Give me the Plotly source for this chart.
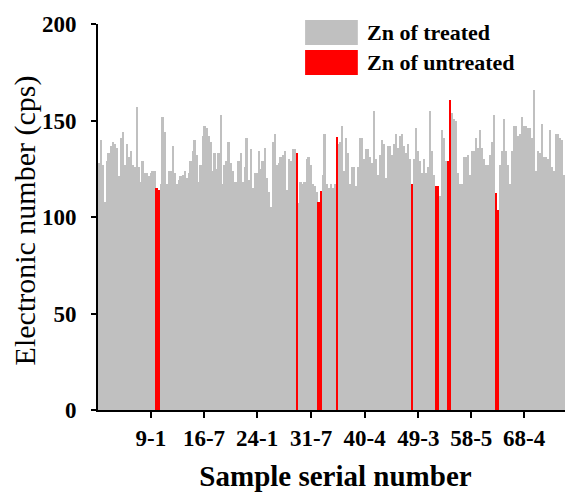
import plotly.graph_objects as go

# ---- data ----
treated = [
    128, 140, 127, 108, 129, 133, 137, 139, 138, 136,
    121, 141, 144, 127, 138, 131, 134, 127, 126, 157,
    126, 118, 129, 123, 123, 121, 123, 124, 124, None,
    None, 117, 152, 144, 117, 124, 124, 137, 123, 117,
    119, 121, 122, 124, 120, 123, 129, 134, 140, 132,
    118, 127, 142, 147, 146, 142, 139, 124, 133, 125,
    133, 153, 117, 127, 129, 139, 128, 124, 118, 118,
    129, 133, 118, 126, 141, 119, 135, 115, 123, 123,
    134, 125, 129, 136, 120, 113, 105, 139, 143, 127,
    128, 131, 132, 134, 114, 130, 129, 135, 135, None,
    107, 118, 117, 118, 130, 131, 127, 117, 116, 113,
    None, None, 122, 143, 117, 115, 117, 115, 117, None,
    138, 139, 147, 124, 141, 133, 117, 126, 126, 116,
    126, 141, 141, 130, 135, 135, 131, 128, 155, 130,
    122, 132, 140, 138, 120, 137, 137, 132, 138, 143,
    136, 142, 143, 137, 133, 138, 130, None, 130, 146,
    134, 129, 123, 130, 123, 126, 155, 134, 122, None,
    None, 111, 145, 141, 129, None, None, 154, 151, 150,
    123, 117, 117, 131, 131, 132, 122, 134, 134, 141,
    136, 145, 136, 130, 127, 127, 132, 139, 153, None,
    None, 127, 134, 151, 134, 127, 117, 134, 147, 147,
    142, 143, 152, 147, 147, 146, 146, 141, 166, 124,
    134, 133, 148, 131, 131, 130, 145, 126, 124, 143,
    143, 141, 140, 122, 120, 131, 131, None,
]
untreated_index = [29, 30, 99, 110, 111, 119, 157, 169, 170, 175, 176, 199, 200, 237]
untreated = [115, 114, 133, 108, 113.5, 141.5, 117, 116, 116, 129, 160.5, 112.5, 103.5, 133]

sample_index = list(range(len(treated)))

tick_index = [26, 52.6, 79.2, 106.3, 133.1, 160, 186.5, 213]
tick_text = ["9-1", "16-7", "24-1", "31-7", "40-4", "49-3", "58-5", "68-4"]

series_names = ["Zn of treated", "Zn of untreated"]
series_colors = ["#c0c0c0", "#ff0000"]

SERIF = "Liberation Serif, Times New Roman, serif"

fig = go.Figure()
fig.add_trace(go.Bar(x=sample_index, y=treated, name=series_names[0],
                     marker=dict(color=series_colors[0], line=dict(width=0))))
fig.add_trace(go.Bar(x=untreated_index, y=untreated, name=series_names[1],
                     marker=dict(color=series_colors[1], line=dict(width=0))))

# custom legend: wide swatches + bold text
sw_x0, sw_x1 = 0.436, 0.547
rows = [(0.9456, 1.0104), (0.8679, 0.9326)]
for (y0, y1), name, col in zip(rows, series_names, series_colors):
    fig.add_shape(type="rect", xref="paper", yref="paper", x0=sw_x0, x1=sw_x1,
                  y0=y0, y1=y1, fillcolor=col, line=dict(width=0), layer="above")
    fig.add_annotation(xref="paper", yref="paper", x=0.562, y=(y0 + y1) / 2,
                       text=name, showarrow=False, xanchor="left", yanchor="middle",
                       font=dict(family=SERIF, size=22, color="black", weight="bold"))

# y-axis title placed explicitly
fig.add_annotation(xref="paper", yref="paper", x=-0.153, y=0.492,
                   text="Electronic number (cps)", textangle=-90, showarrow=False,
                   xanchor="center", yanchor="middle",
                   font=dict(family=SERIF, size=30, color="black"))

# page adds an 8px body margin, so the figure is sized/offset to compensate
fig.update_layout(
    width=565, height=484,
    margin=dict(l=90, r=0, t=16, b=82, autoexpand=False),
    paper_bgcolor="white", plot_bgcolor="white",
    barmode="overlay", bargap=0,
    showlegend=False,
    font=dict(family=SERIF, color="black"),
)
fig.update_xaxes(
    range=[-0.5, 237.5], showgrid=False, zeroline=False, automargin=False,
    showline=True, linecolor="black", linewidth=2,
    ticks="outside", ticklen=6, tickwidth=2, tickcolor="black",
    tickvals=tick_index, ticktext=tick_text,
    tickfont=dict(family=SERIF, size=23, color="black", weight="bold"),
    title=dict(text="Sample serial number", standoff=17,
               font=dict(family=SERIF, size=29, color="black", weight="bold")),
)
fig.update_yaxes(
    range=[0, 200], showgrid=False, zeroline=False, automargin=False,
    showline=True, linecolor="black", linewidth=2,
    ticks="outside", ticklen=5, tickwidth=2, tickcolor="black",
    tickvals=[0, 50, 100, 150, 200], ticklabelstandoff=10,
    tickfont=dict(family=SERIF, size=23, color="black", weight="bold"),
)

fig.write_html("out.html")
